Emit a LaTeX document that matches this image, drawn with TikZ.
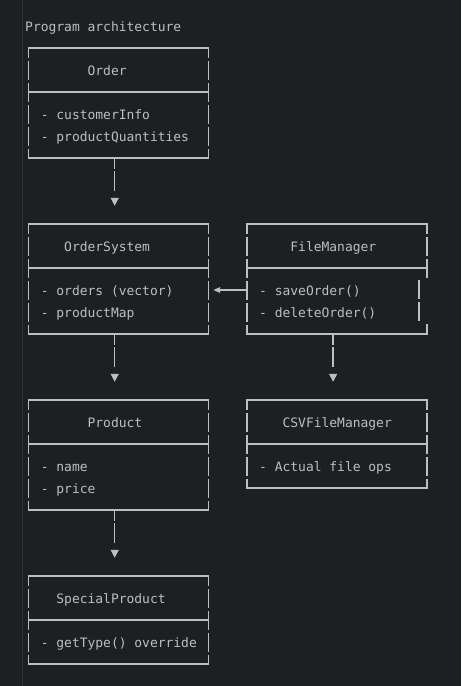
\documentclass[tikz,border=0pt]{standalone}
\usepackage{fontspec}
\setmonofont{DejaVu Sans Mono}
\usetikzlibrary{positioning}
\usetikzlibrary{arrows.meta}
\definecolor{canvas}{HTML}{1E1F22}
\definecolor{ink}{HTML}{BCBEC4}
\definecolor{gutterline}{HTML}{2E3034}

\begin{document}
\begin{tikzpicture}[x=1pt, y=-1pt,
	boxtext/.style={anchor=base west, inner sep=0pt, text=ink, font=\ttfamily\fontsize{12.96}{13}\selectfont},
	classbox/.style={rectangle, inner sep=0pt, minimum width=179.4pt},
	frameline/.style={draw=ink, line width=1.5pt, line cap=rect},
	rowbar/.style={draw=ink, line width=1.5pt, dash pattern=on 19.5pt off 2.5pt, dash phase=9pt},
	midbar/.style={draw=ink, line width=1.5pt, dash pattern=on 19.5pt off 2.5pt},
	downlink/.style={draw=ink, line width=1.5pt, dash pattern=on 10.5pt off 2.5pt on 19.5pt off 30pt, -{Triangle[width=8pt,length=8pt]}, shorten >=18pt},
	leftlink/.style={draw=ink, line width=1.5pt, -{Triangle[width=5.5pt,length=7pt]}, shorten >=4.7pt}]

		\useasboundingbox (0,0) rectangle (461,686);
		\fill[canvas] (0,0) rectangle (461,686);
		\draw[gutterline, line width=1pt] (22,0) -- (22,686);

		\node[boxtext](title) at (25,31){Program architecture};

		\node[classbox, minimum height=110pt](orderBox) at (118.6,103){};
		\node[classbox, minimum height=110pt](osBox) at (118.6,279){};
		\node[classbox, minimum height=110pt](fmBox) at (337,279){};
		\node[classbox, minimum height=110pt](productBox) at (118.6,455){};
		\node[classbox, minimum height=88pt](csvBox) at (337,444){};
		\node[classbox, minimum height=88pt](spBox) at (118.6,620){};

		\node[boxtext](orderName) at (87.4,75){Order};
		\node[boxtext](orderInfo) at (40.6,119){- customerInfo};
		\node[boxtext](orderQty) at (40.6,141){- productQuantities};

		\node[boxtext](osName) at (64,251){OrderSystem};
		\node[boxtext](osOrders) at (40.6,295){- orders (vector)};
		\node[boxtext](osMap) at (40.6,317){- productMap};

		\node[boxtext](fmName) at (290.2,251){FileManager};
		\node[boxtext](fmSave) at (259,295){- saveOrder()};
		\node[boxtext](fmDelete) at (259,317){- deleteOrder()};

		\node[boxtext](productName) at (87.4,427){Product};
		\node[boxtext](productNm) at (40.6,471){- name};
		\node[boxtext](productPrice) at (40.6,493){- price};

		\node[boxtext](csvName) at (282.4,427){CSVFileManager};
		\node[boxtext](csvOps) at (259,471){- Actual file ops};

		\node[boxtext](spName) at (56.2,603){SpecialProduct};
		\node[boxtext](spGetType) at (40.6,647){- getType() override};

		\draw[frameline] (orderBox.north west) -- (orderBox.north east) (orderBox.south west) -- (orderBox.south east);
		\draw[frameline] (orderBox.west |- 0,92) -- (orderBox.east |- 0,92);
		\draw[rowbar] (orderBox.north west) -- (orderBox.south west) (orderBox.north east) -- (orderBox.south east);

		\draw[frameline] (osBox.north west) -- (osBox.north east) (osBox.south west) -- (osBox.south east);
		\draw[frameline] (osBox.west |- 0,268) -- (osBox.east |- 0,268);
		\draw[rowbar] (osBox.north west) -- (osBox.south west) (osBox.north east) -- (osBox.south east);

		\draw[frameline] (fmBox.north west) -- (fmBox.north east) (fmBox.south west) -- (fmBox.south east);
		\draw[frameline] (fmBox.west |- 0,268) -- (fmBox.east |- 0,268);
		\draw[rowbar] (fmBox.north west) -- (fmBox.south west) (fmBox.north east) -- ++(0,54.5);
		\draw[frameline] (fmBox.south east) -- ++(0,-9.5);
		\draw[midbar] ([xshift=-7.8pt]fmBox.east |- 0,279.5) -- ++(0,42);

		\draw[frameline] (productBox.north west) -- (productBox.north east) (productBox.south west) -- (productBox.south east);
		\draw[frameline] (productBox.west |- 0,444) -- (productBox.east |- 0,444);
		\draw[rowbar] (productBox.north west) -- (productBox.south west) (productBox.north east) -- (productBox.south east);

		\draw[frameline] (csvBox.north west) -- (csvBox.north east) (csvBox.south west) -- (csvBox.south east);
		\draw[frameline] (csvBox.west |- 0,444) -- (csvBox.east |- 0,444);
		\draw[rowbar] (csvBox.north west) -- (csvBox.south west) (csvBox.north east) -- (csvBox.south east);

		\draw[frameline] (spBox.north west) -- (spBox.north east) (spBox.south west) -- (spBox.south east);
		\draw[frameline] (spBox.west |- 0,620) -- (spBox.east |- 0,620);
		\draw[rowbar] (spBox.north west) -- (spBox.south west) (spBox.north east) -- (spBox.south east);

		\coordinate (fmLink) at (fmBox.west |- 0,290);

		\draw[downlink] ([xshift=-3.9pt]orderBox.south) -- ([xshift=-3.9pt]osBox.north);
		\draw[downlink] ([xshift=-3.9pt]osBox.south) -- ([xshift=-3.9pt]productBox.north);
		\draw[downlink] ([xshift=-3.9pt]productBox.south) -- ([xshift=-3.9pt]spBox.north);
		\draw[downlink] ([xshift=-3.9pt]fmBox.south) -- ([xshift=-3.9pt]csvBox.north);
		\draw[leftlink] (fmLink) -- (osBox.east |- fmLink);

	\end{tikzpicture}
\end{document}
